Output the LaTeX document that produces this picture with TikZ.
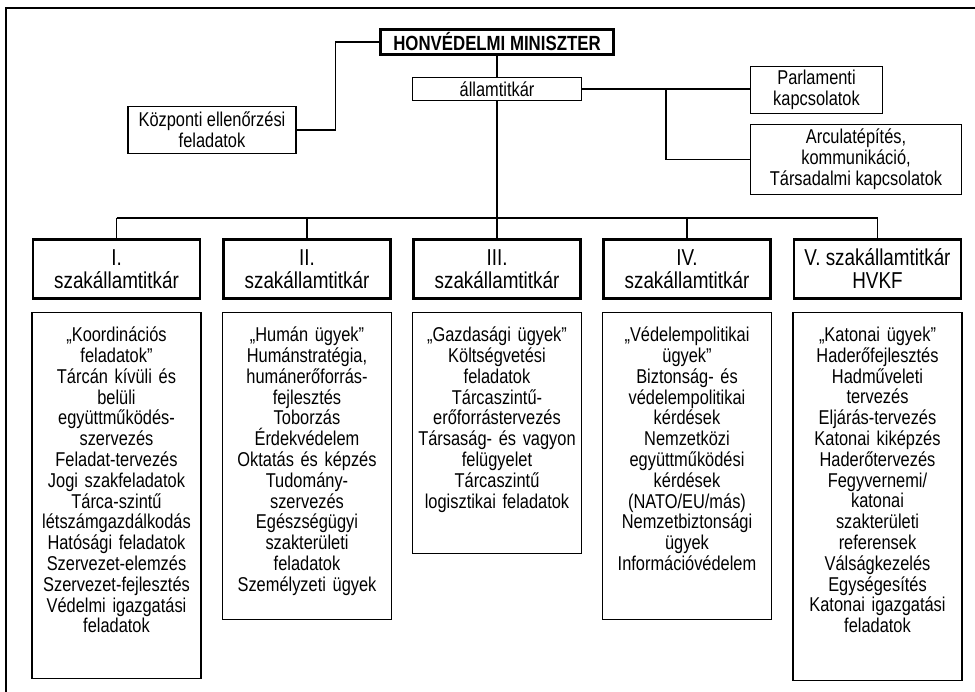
\documentclass[tikz,border=0pt]{standalone}
\usepackage{fontspec}
\setmainfont{Liberation Sans}[FakeStretch=0.82]
\usetikzlibrary{positioning}

\newcommand\bodyfont{\fontsize{20}{20.8}\selectfont}
\newcommand\headfont{\fontsize{23}{23}\selectfont}
\newcommand\chieffont{\fontsize{20.5}{22}\selectfont\bfseries}
\newcommand\szakoszlop[5]{
  \node[headbox] (#1) at (#2, 269) {#3} ;
  \node[bodybox, minimum height=#4pt, below=12pt of #1] (#1b) {} ;
  \node[bodytext, below=15pt of #1b.north] (#1t) {#5} ;
  \draw[busline] (#1.north |- busL) -- (#1.north) ;
}

\tikzset{
  keret/.style={line width=2pt},
  chiefbox/.style={draw, line width=3pt, font=\chieffont, minimum width=233pt, minimum height=25pt, inner sep=0pt},
  smallbox/.style={draw, line width=1.4pt, font=\bodyfont, align=center, inner sep=0pt},
  headbox/.style={draw, line width=2.6pt, font=\headfont, align=center, minimum width=167pt, minimum height=59pt, inner sep=0pt},
  bodybox/.style={draw, line width=1.4pt, minimum width=169pt, inner sep=0pt},
  bodytext/.style={font=\bodyfont, text width=166pt, align=center, inner sep=0pt},
  trunk/.style={line width=2.8pt},
  busline/.style={line width=1.8pt},
  thinline/.style={line width=1.4pt}
}

\begin{document}
\begin{tikzpicture}[x=1pt, y=-1pt]
    \useasboundingbox (0, 0) rectangle (975, 692) ;
    \draw[keret] (6, 692) |- (975, 8) ;

    % felso szint
    \node[chiefbox] (chief) at (497, 42) {HONVÉDELMI MINISZTER} ;
    \node[smallbox, minimum width=169pt, minimum height=23pt] (allam) at (497, 89) {államtitkár} ;
    \node[smallbox, minimum width=168pt, minimum height=47pt] (kozp) at (212, 130) {Központi ellenőrzési\\feladatok} ;
    \node[smallbox, minimum width=132pt, minimum height=47pt] (parl) at (816.5, 90) {Parlamenti\\kapcsolatok} ;
    \node[smallbox, minimum width=211pt, minimum height=70pt] (arcul) at (856, 159.5) {Arculatépítés,\\kommunikáció,\\Társadalmi kapcsolatok} ;
    \coordinate (ag) at (666, 89) ;
    \coordinate (busL) at (116.5, 218) ;
    \coordinate (busR) at (877.5, 218) ;

    \draw[thinline] (kozp.east) -- ++(39, 0) |- (chief.west) ;
    \draw[thinline] (allam.east) -- (allam.east -| parl.west) ;
    \draw[thinline] (ag) |- (arcul.west) ;
    \draw[trunk] (chief) -- (allam) ;
    \draw[busline] (busL) -- (busR) ;

    % szakallamtitkarok
    \szakoszlop{h1}{116.5}{I.\\szakállamtitkár}{366}{„Koordinációs\\feladatok”\\Tárcán kívüli és\\belüli\\együttműködés-\\szervezés\\Feladat-tervezés\\Jogi szakfeladatok\\Tárca-szintű\\létszámgazdálkodás\\Hatósági feladatok\\Szervezet-elemzés\\Szervezet-fejlesztés\\Védelmi igazgatási\\feladatok}
    \szakoszlop{h2}{307}{II.\\szakállamtitkár}{307}{„Humán ügyek”\\Humánstratégia,\\humánerőforrás-\\fejlesztés\\Toborzás\\Érdekvédelem\\Oktatás és képzés\\Tudomány-\\szervezés\\Egészségügyi\\szakterületi\\feladatok\\Személyzeti ügyek}
    \szakoszlop{h3}{497}{III.\\szakállamtitkár}{241}{„Gazdasági ügyek”\\Költségvetési\\feladatok\\Tárcaszintű-\\erőforrástervezés\\Társaság- és vagyon\\felügyelet\\Tárcaszintű\\logisztikai feladatok}
    \szakoszlop{h4}{687}{IV.\\szakállamtitkár}{307}{„Védelempolitikai\\ügyek”\\Biztonság- és\\védelempolitikai\\kérdések\\Nemzetközi\\együttműködési\\kérdések\\(NATO/EU/más)\\Nemzetbiztonsági\\ügyek\\Információvédelem}
    \szakoszlop{h5}{877.5}{V. szakállamtitkár\\HVKF}{368}{„Katonai ügyek”\\Haderőfejlesztés\\Hadműveleti\\tervezés\\Eljárás-tervezés\\Katonai kiképzés\\Haderőtervezés\\Fegyvernemi/\\katonai\\szakterületi\\referensek\\Válságkezelés\\Egységesítés\\Katonai igazgatási\\feladatok}

    \draw[trunk] (allam) -- (h3) ;
  \end{tikzpicture}
\end{document}
